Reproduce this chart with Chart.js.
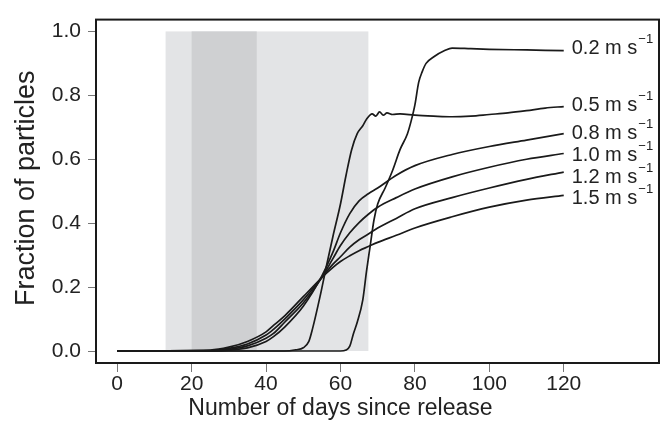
<!DOCTYPE html>
<html>
<head>
<meta charset="utf-8">
<script src="https://cdn.jsdelivr.net/npm/chart.js@4.4.1/dist/chart.umd.min.js"></script>
<style>
    html, body { margin: 0; padding: 0; background: #fff; }
    #wrap { width: 661px; height: 431px; position: relative; }
</style>
</head>
<body>
<div id="wrap"><canvas id="chart"></canvas></div>
<script>
    // Particle arrival curves, one per wind speed (m s-1)
    var speedLabels = ['0.2', '0.5', '0.8', '1.0', '1.2', '1.5'];

    var days02 = [0, 60, 61.5, 62.5, 63.5, 64.5, 66, 67, 68, 69, 70, 72, 74, 76, 78, 79, 80, 81, 82, 83, 85, 88, 90, 95, 100, 110, 120];
    var frac02 = [0, 0, 0.003, 0.015, 0.055, 0.09, 0.16, 0.25, 0.33, 0.41, 0.46, 0.51, 0.565, 0.63, 0.68, 0.72, 0.77, 0.84, 0.875, 0.90, 0.92, 0.94, 0.948, 0.946, 0.944, 0.942, 0.94];

    var days05 = [0, 45, 48, 50, 51.5, 52.5, 54.5, 56.3, 58, 60, 61.5, 63, 64.5, 66, 67, 68.5, 69.5, 70.5, 71.5, 72.5, 74, 76, 80, 85, 90, 95, 100, 105, 110, 115, 120];
    var frac05 = [0, 0, 0.004, 0.01, 0.03, 0.07, 0.17, 0.27, 0.36, 0.46, 0.55, 0.63, 0.68, 0.705, 0.725, 0.742, 0.735, 0.748, 0.738, 0.745, 0.74, 0.742, 0.738, 0.735, 0.733, 0.735, 0.74, 0.745, 0.752, 0.76, 0.765];

    // the slower-rising curves share one day grid
    var daysSlow = [0, 25, 30, 35, 40, 42, 45, 50, 55, 58, 60, 62.5, 65, 67.5, 70, 75, 80, 90, 100, 110, 120];
    var frac08 = [0, 0, 0.003, 0.01, 0.03, 0.045, 0.075, 0.14, 0.235, 0.31, 0.37, 0.43, 0.47, 0.492, 0.51, 0.55, 0.58, 0.615, 0.64, 0.66, 0.68];
    var frac10 = [0, 0, 0.005, 0.016, 0.04, 0.055, 0.09, 0.15, 0.23, 0.29, 0.33, 0.37, 0.402, 0.428, 0.45, 0.48, 0.507, 0.545, 0.575, 0.60, 0.618];
    var frac12 = [0, 0.001, 0.008, 0.022, 0.05, 0.068, 0.10, 0.16, 0.23, 0.272, 0.295, 0.325, 0.348, 0.366, 0.385, 0.415, 0.445, 0.48, 0.51, 0.537, 0.56];
    var frac15 = [0, 0.003, 0.012, 0.03, 0.06, 0.08, 0.11, 0.17, 0.23, 0.262, 0.28, 0.298, 0.314, 0.327, 0.34, 0.362, 0.385, 0.42, 0.45, 0.472, 0.487];

    // shaded periods (days)
    var shadeLight = [13, 67.5];
    var shadeDark = [20, 37.5];

    var xTickValues = [0, 20, 40, 60, 80, 100, 120];
    var yTickValues = [0, 0.2, 0.4, 0.6, 0.8, 1.0];

    var FONT = '"Liberation Sans", Arial, Helvetica, sans-serif';
    var INK = '#1a1a1a';
    var TEXT = '#222';
    // vertical nudge (px) of each end label so they do not collide
    var labelShift = [-2.5, -1.5, -0.5, 2, 5, 3];

    function toPoints(days, vals) {
        return days.map(function (d, i) { return {x: d, y: vals[i]}; });
    }

    var seriesData = [
        toPoints(days02, frac02),
        toPoints(days05, frac05),
        toPoints(daysSlow, frac08),
        toPoints(daysSlow, frac10),
        toPoints(daysSlow, frac12),
        toPoints(daysSlow, frac15)
    ];

    var datasets = seriesData.map(function (pts, i) {
        return {
            label: speedLabels[i],
            data: pts,
            borderColor: INK,
            borderWidth: 1.7,
            pointRadius: 0,
            fill: false,
            cubicInterpolationMode: 'monotone'
        };
    });

    var decorPlugin = {
        id: 'decor',
        beforeDatasetsDraw: function (chart) {
            var ctx = chart.ctx, xs = chart.scales.x, ys = chart.scales.y;
            var top = ys.getPixelForValue(1), bot = ys.getPixelForValue(0);
            ctx.save();
            ctx.fillStyle = '#e3e4e6';
            var a = xs.getPixelForValue(shadeLight[0]), b = xs.getPixelForValue(shadeLight[1]);
            ctx.fillRect(a, top, b - a, bot - top);
            ctx.fillStyle = '#cfd0d2';
            a = xs.getPixelForValue(shadeDark[0]); b = xs.getPixelForValue(shadeDark[1]);
            ctx.fillRect(a, top, b - a, bot - top);
            ctx.restore();
        },
        afterDatasetsDraw: function (chart) {
            var ctx = chart.ctx, xs = chart.scales.x, ys = chart.scales.y, area = chart.chartArea;
            ctx.save();
            // box round the plot
            ctx.strokeStyle = INK;
            ctx.lineWidth = 2;
            ctx.strokeRect(area.left, area.top, area.right - area.left, area.bottom - area.top);

            // speed labels at the end of each curve
            ctx.fillStyle = TEXT;
            ctx.textBaseline = 'middle';
            ctx.textAlign = 'left';
            seriesData.forEach(function (pts, i) {
                var last = pts[pts.length - 1];
                var x = xs.getPixelForValue(last.x) + 8;
                var y = ys.getPixelForValue(last.y) + labelShift[i];
                var txt = speedLabels[i] + ' m s';
                ctx.font = '20px ' + FONT;
                ctx.fillText(txt, x, y);
                var w = ctx.measureText(txt).width;
                ctx.font = '13px ' + FONT;
                ctx.fillText('\u22121', x + w + 1, y - 9);
            });

            // axis titles, centred on the tick range
            ctx.textAlign = 'center';
            ctx.font = '23px ' + FONT;
            ctx.fillText('Number of days since release', xs.getPixelForValue(60), 409);
            ctx.translate(27, ys.getPixelForValue(0.5) - 3);
            ctx.rotate(-Math.PI / 2);
            ctx.font = '27px ' + FONT;
            ctx.fillText('Fraction of particles', 0, 0);
            ctx.restore();
        }
    };

    new Chart(document.getElementById('chart'), {
        type: 'line',
        data: {datasets: datasets},
        options: {
            responsive: true,
            maintainAspectRatio: false,
            animation: false,
            layout: {padding: {top: 11, right: 2, left: 0, bottom: 0}},
            plugins: {legend: {display: false}, tooltip: {enabled: false}},
            scales: {
                x: {
                    type: 'linear',
                    min: -5.7,
                    max: 145.6,
                    afterBuildTicks: function (s) {
                        s.ticks = xTickValues.map(function (v) { return {value: v}; });
                    },
                    afterFit: function (s) { s.height = 68; },
                    grid: {drawOnChartArea: false, drawTicks: true, tickLength: 9, tickColor: '#777', tickWidth: 1},
                    border: {display: false},
                    ticks: {color: TEXT, font: {family: FONT, size: 21}, padding: 0, maxRotation: 0}
                },
                y: {
                    type: 'linear',
                    min: -0.0375,
                    max: 1.037,
                    afterBuildTicks: function (s) {
                        s.ticks = yTickValues.map(function (v) { return {value: v}; });
                    },
                    afterFit: function (s) { s.width = 96; },
                    grid: {drawOnChartArea: false, drawTicks: true, tickLength: 8, tickColor: '#777', tickWidth: 1},
                    border: {display: false},
                    ticks: {color: TEXT, font: {family: FONT, size: 21}, padding: 7,
                        callback: function (v) { return v.toFixed(1); }}
                }
            }
        },
        plugins: [decorPlugin]
    });
</script>
</body>
</html>
